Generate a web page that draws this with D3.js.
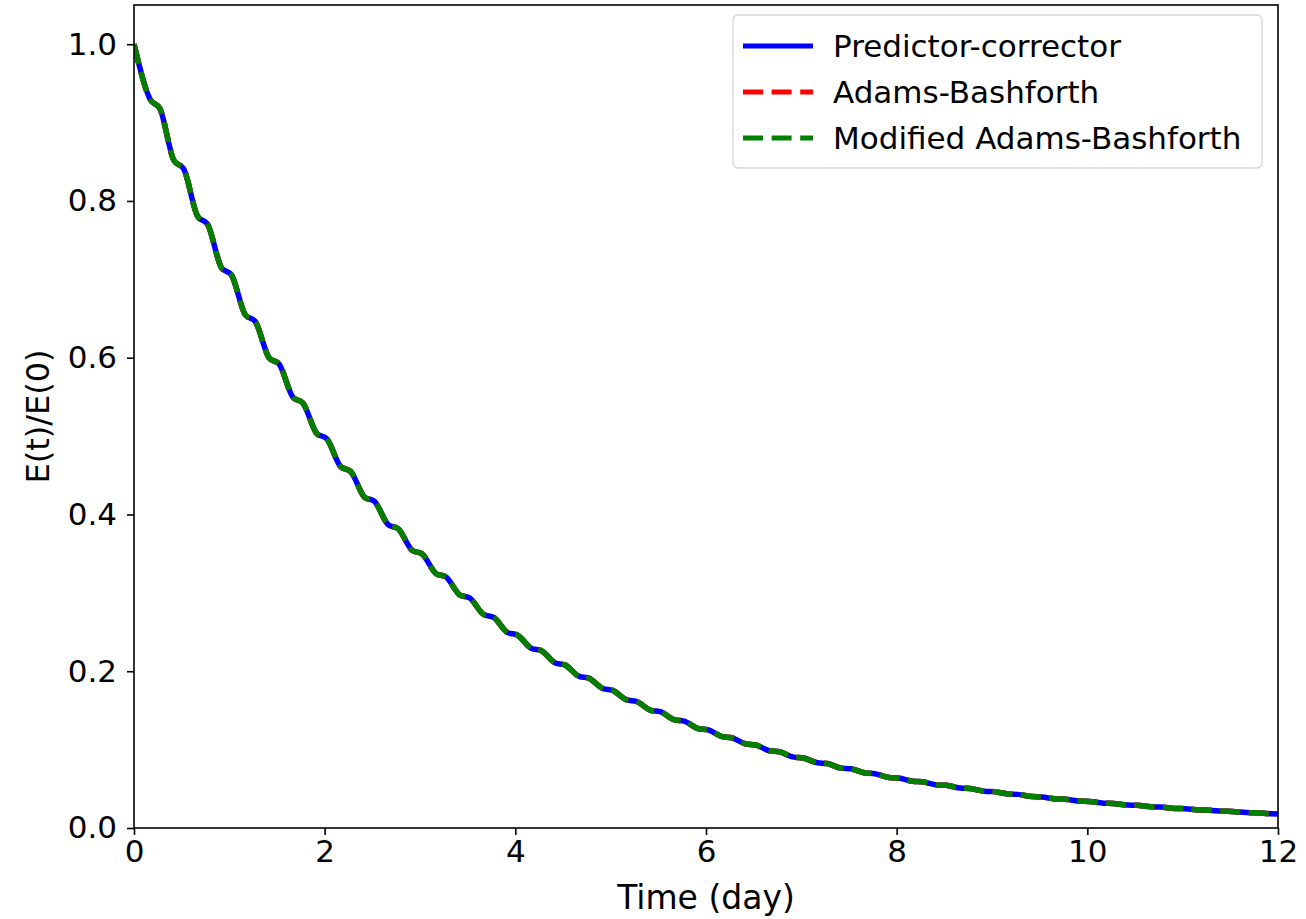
<!DOCTYPE html>
<html>
<head>
<meta charset="utf-8">
<script src="https://cdn.jsdelivr.net/npm/d3@7"></script>
<style>
  html, body { margin: 0; padding: 0; background: #fff; }
  svg { display: block; font-family: "DejaVu Sans", sans-serif; }
</style>
</head>
<body>
<svg id="chart" width="1306" height="919"></svg>
<script>
// Time in days
const timeDays = [
  0, 0.17, 0.27, 0.42, 0.52, 0.67, 0.77, 0.92, 1.02,
  1.17, 1.27, 1.42, 1.52, 1.67, 1.77, 1.92, 2.02,
  2.17, 2.27, 2.42, 2.52, 2.67, 2.77, 2.92, 3.02,
  3.17, 3.27, 3.42, 3.52, 3.67, 3.77, 3.92, 4.02,
  4.17, 4.27, 4.42, 4.52, 4.67, 4.77, 4.92, 5.02,
  5.17, 5.27, 5.42, 5.52, 5.67, 5.77, 5.92, 6.02,
  6.17, 6.27, 6.42, 6.52, 6.67, 6.77, 6.92, 7.02,
  7.17, 7.27, 7.42, 7.52, 7.67, 7.77, 7.92, 8.02,
  8.17, 8.27, 8.42, 8.52, 8.67, 8.77, 8.92, 9.02,
  9.17, 9.27, 9.42, 9.52, 9.67, 9.77, 9.92, 10.02,
  10.17, 10.27, 10.42, 10.52, 10.67, 10.77, 10.92, 11.02,
  11.17, 11.27, 11.42, 11.52, 11.67, 11.77, 11.92, 12.0
];

// Normalised energy E(t)/E(0) for each scheme
const predictorCorrector = [
  1.0, 0.9294, 0.9183, 0.8514, 0.8412, 0.7798, 0.7705, 0.7144, 0.7059,
  0.6543, 0.6465, 0.5994, 0.5922, 0.5491, 0.5425, 0.5029, 0.4969,
  0.4607, 0.4552, 0.4219, 0.4169, 0.3866, 0.3820, 0.3541, 0.3499,
  0.3244, 0.3205, 0.2971, 0.2935, 0.2722, 0.2689, 0.2493, 0.2463,
  0.2291, 0.2264, 0.2106, 0.2081, 0.1935, 0.1912, 0.1778, 0.1757,
  0.1634, 0.1615, 0.1502, 0.1484, 0.1380, 0.1364, 0.1268, 0.1253,
  0.1165, 0.1151, 0.1072, 0.1059, 0.0985, 0.0973, 0.0904, 0.0893,
  0.0832, 0.0822, 0.0764, 0.0755, 0.0702, 0.0693, 0.0645, 0.0637,
  0.0596, 0.0589, 0.0550, 0.0544, 0.0509, 0.0503, 0.0470, 0.0464,
  0.0434, 0.0429, 0.0401, 0.0396, 0.0371, 0.0367, 0.0343, 0.0339,
  0.0317, 0.0313, 0.0292, 0.0289, 0.0270, 0.0267, 0.0250, 0.0247,
  0.0231, 0.0228, 0.0214, 0.0211, 0.0197, 0.0194, 0.0182, 0.0180
];
const adamsBashforth = [
  1.0, 0.9294, 0.9183, 0.8514, 0.8412, 0.7798, 0.7705, 0.7144, 0.7059,
  0.6543, 0.6465, 0.5994, 0.5922, 0.5491, 0.5425, 0.5029, 0.4969,
  0.4607, 0.4552, 0.4219, 0.4169, 0.3866, 0.3820, 0.3541, 0.3499,
  0.3244, 0.3205, 0.2971, 0.2935, 0.2722, 0.2689, 0.2493, 0.2463,
  0.2291, 0.2264, 0.2106, 0.2081, 0.1935, 0.1912, 0.1778, 0.1757,
  0.1634, 0.1615, 0.1502, 0.1484, 0.1380, 0.1364, 0.1268, 0.1253,
  0.1165, 0.1151, 0.1072, 0.1059, 0.0985, 0.0973, 0.0904, 0.0893,
  0.0832, 0.0822, 0.0764, 0.0755, 0.0702, 0.0693, 0.0645, 0.0637,
  0.0596, 0.0589, 0.0550, 0.0544, 0.0509, 0.0503, 0.0470, 0.0464,
  0.0434, 0.0429, 0.0401, 0.0396, 0.0371, 0.0367, 0.0343, 0.0339,
  0.0317, 0.0313, 0.0292, 0.0289, 0.0270, 0.0267, 0.0250, 0.0247,
  0.0231, 0.0228, 0.0214, 0.0211, 0.0197, 0.0194, 0.0182, 0.0180
];
const modifiedAdamsBashforth = [
  1.0, 0.9294, 0.9183, 0.8514, 0.8412, 0.7798, 0.7705, 0.7144, 0.7059,
  0.6543, 0.6465, 0.5994, 0.5922, 0.5491, 0.5425, 0.5029, 0.4969,
  0.4607, 0.4552, 0.4219, 0.4169, 0.3866, 0.3820, 0.3541, 0.3499,
  0.3244, 0.3205, 0.2971, 0.2935, 0.2722, 0.2689, 0.2493, 0.2463,
  0.2291, 0.2264, 0.2106, 0.2081, 0.1935, 0.1912, 0.1778, 0.1757,
  0.1634, 0.1615, 0.1502, 0.1484, 0.1380, 0.1364, 0.1268, 0.1253,
  0.1165, 0.1151, 0.1072, 0.1059, 0.0985, 0.0973, 0.0904, 0.0893,
  0.0832, 0.0822, 0.0764, 0.0755, 0.0702, 0.0693, 0.0645, 0.0637,
  0.0596, 0.0589, 0.0550, 0.0544, 0.0509, 0.0503, 0.0470, 0.0464,
  0.0434, 0.0429, 0.0401, 0.0396, 0.0371, 0.0367, 0.0343, 0.0339,
  0.0317, 0.0313, 0.0292, 0.0289, 0.0270, 0.0267, 0.0250, 0.0247,
  0.0231, 0.0228, 0.0214, 0.0211, 0.0197, 0.0194, 0.0182, 0.0180
];

const seriesNames = ["Predictor-corrector", "Adams-Bashforth", "Modified Adams-Bashforth"];
const xTicks = [0, 2, 4, 6, 8, 10, 12];
const yTicks = [0.0, 0.2, 0.4, 0.6, 0.8, 1.0];

const margin = { left: 134, right: 28, top: 5, bottom: 91 };
const W = 1306, H = 919;
const svg = d3.select("#chart");

const x = d3.scaleLinear().domain([0, 12]).range([margin.left, W - margin.right]);
const y = d3.scaleLinear().domain([0, 1.05]).range([H - margin.bottom, margin.top]);

const dash = "20,8.6";
const series = [
  { name: seriesNames[0], values: predictorCorrector, color: "#0000ff", dash: null },
  { name: seriesNames[1], values: adamsBashforth, color: "#ff0000", dash: dash },
  { name: seriesNames[2], values: modifiedAdamsBashforth, color: "#008000", dash: dash }
];

const clipId = "plot-clip";
svg.append("defs").append("clipPath").attr("id", clipId)
  .append("rect")
  .attr("x", x(0)).attr("y", y(1.05))
  .attr("width", x(12) - x(0)).attr("height", y(0) - y(1.05));

const line = d3.line()
  .x((d, i) => x(timeDays[i]))
  .y(d => y(d))
  .curve(d3.curveMonotoneX);

const lines = svg.append("g").attr("clip-path", `url(#${clipId})`);
series.forEach(s => {
  lines.append("path")
    .datum(s.values)
    .attr("d", line)
    .attr("fill", "none")
    .attr("stroke", s.color)
    .attr("stroke-width", 5.5)
    .attr("stroke-dasharray", s.dash)
    .attr("stroke-linejoin", "round");
});

// Axes
const xAxis = d3.axisBottom(x).tickValues(xTicks).tickFormat(d3.format("d")).tickSizeOuter(0).tickSize(7).tickPadding(5);
const yAxis = d3.axisLeft(y).tickValues(yTicks).tickFormat(d3.format(".1f")).tickSizeOuter(0).tickSize(7).tickPadding(10);

const gx = svg.append("g").attr("transform", `translate(0,${y(0)})`).call(xAxis);
const gy = svg.append("g").attr("transform", `translate(${x(0)},0)`).call(yAxis);
[gx, gy].forEach(g => {
  g.select(".domain").remove();
  g.selectAll(".tick line").attr("stroke", "#000").attr("stroke-width", 1.6);
  g.selectAll(".tick text").attr("fill", "#000").style("font-size", "31px")
    .style("font-family", "'DejaVu Sans', sans-serif");
});

// Frame
svg.append("rect")
  .attr("x", x(0)).attr("y", y(1.05))
  .attr("width", x(12) - x(0)).attr("height", y(0) - y(1.05))
  .attr("fill", "none").attr("stroke", "#000").attr("stroke-width", 1.6);

// Axis titles
svg.append("text")
  .attr("x", (x(0) + x(12)) / 2).attr("y", 909)
  .attr("text-anchor", "middle")
  .style("font-size", "33px").text("Time (day)");
svg.append("text")
  .attr("transform", `translate(49,${(y(0) + y(1.05)) / 2}) rotate(-90)`)
  .attr("text-anchor", "middle")
  .style("font-size", "32px").text("E(t)/E(0)");

// Legend
const lg = svg.append("g").attr("transform", "translate(733,15)");
lg.append("rect")
  .attr("width", 529).attr("height", 153).attr("rx", 5)
  .attr("fill", "#fff").attr("fill-opacity", 0.8)
  .attr("stroke", "#d6d6d6").attr("stroke-width", 1.3);
series.forEach((s, i) => {
  const yy = 31 + i * 46;
  lg.append("line")
    .attr("x1", 10).attr("x2", 80).attr("y1", yy).attr("y2", yy)
    .attr("stroke", s.color).attr("stroke-width", 5)
    .attr("stroke-dasharray", s.dash);
  lg.append("text")
    .attr("x", 100).attr("y", yy + 11)
    .style("font-size", "31px").text(s.name);
});
</script>
</body>
</html>
